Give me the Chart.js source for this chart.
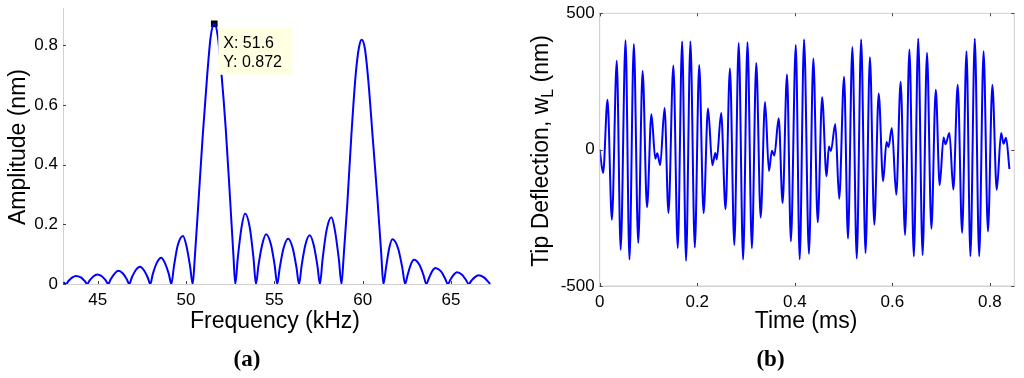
<!DOCTYPE html>
<html>
<head>
<meta charset="utf-8">
<script src="https://cdn.jsdelivr.net/npm/chart.js@4.4.1/dist/chart.umd.min.js"></script>
<style>
  html, body { margin: 0; padding: 0; background: #fff; }
  #wrap { position: relative; width: 1024px; height: 378px; }
  canvas { position: absolute; top: 0; }
  #left { left: 0; }
  #right { left: 512px; }
</style>
</head>
<body>
<div id="wrap">
  <canvas id="left" width="512" height="378"></canvas>
  <canvas id="right" width="512" height="378"></canvas>
</div>
<script>
// (a) amplitude spectrum
const freqKHz = [
  43.06, 43.21,
  43.35, 43.57, 43.77, 44.05, 44.27, 44.41,
  44.55, 44.77, 44.98, 45.24, 45.46, 45.60,
  45.74, 45.96, 46.17, 46.43, 46.65, 46.79,
  46.93, 47.15, 47.40, 47.62, 47.84, 47.98,
  48.12, 48.34, 48.60, 48.81, 49.03, 49.17,
  49.32, 49.53, 49.83, 50.02, 50.23, 50.38,
  50.50, 50.70, 50.95, 51.20, 51.40, 51.60, 51.80, 52.00, 52.25, 52.50, 52.68, 52.79,
  52.93, 53.14, 53.34, 53.61, 53.82, 53.96,
  54.10, 54.32, 54.53, 54.80, 55.02, 55.16,
  55.31, 55.53, 55.78, 56.03, 56.25, 56.40,
  56.54, 56.75, 57.00, 57.23, 57.44, 57.58,
  57.73, 57.95, 58.23, 58.43, 58.65, 58.80,
  58.92, 59.12, 59.36, 59.60, 59.78, 59.94, 60.12, 60.32, 60.58, 60.84, 61.05, 61.17,
  61.32, 61.50, 61.68, 62.00, 62.24, 62.40,
  62.54, 62.72, 62.90, 63.20, 63.44, 63.60,
  63.75, 63.93, 64.11, 64.42, 64.65, 64.82,
  64.96, 65.15, 65.33, 65.62, 65.84, 66.00,
  66.15, 66.35, 66.55, 66.84, 67.05, 67.21
];
const amplitudeNm = [
  0.006, 0,
  0.010, 0.022, 0.027, 0.022, 0.010, 0,
  0.012, 0.026, 0.032, 0.026, 0.012, 0,
  0.016, 0.035, 0.044, 0.035, 0.016, 0,
  0.021, 0.046, 0.058, 0.046, 0.021, 0,
  0.033, 0.070, 0.088, 0.070, 0.033, 0,
  0.060, 0.129, 0.161, 0.129, 0.060, 0,
  0.09, 0.27, 0.50, 0.70, 0.83, 0.872, 0.83, 0.71, 0.52, 0.28, 0.10, 0,
  0.087, 0.189, 0.236, 0.189, 0.087, 0,
  0.062, 0.134, 0.167, 0.134, 0.062, 0,
  0.056, 0.122, 0.152, 0.122, 0.056, 0,
  0.060, 0.130, 0.163, 0.130, 0.060, 0,
  0.083, 0.179, 0.224, 0.179, 0.083, 0,
  0.09, 0.26, 0.50, 0.70, 0.79, 0.819, 0.79, 0.68, 0.48, 0.28, 0.10, 0,
  0.055, 0.120, 0.150, 0.120, 0.055, 0,
  0.030, 0.065, 0.081, 0.065, 0.030, 0,
  0.020, 0.043, 0.054, 0.043, 0.020, 0,
  0.014, 0.031, 0.039, 0.031, 0.014, 0,
  0.011, 0.023, 0.029, 0.023, 0.011, 0
];
const freqTicks = [45, 50, 55, 60, 65];
const ampTicks = [0, 0.2, 0.4, 0.6, 0.8];
const dataTip = { x: 51.6, y: 0.872 };

// (b) tip deflection vs time (peaks and troughs)
const timeMs = [
  0, 0.007, 0.016, 0.025, 0.035, 0.043, 0.053, 0.061, 0.070, 0.079,
  0.088, 0.097, 0.106, 0.114, 0.118, 0.124, 0.133, 0.141, 0.151, 0.160,
  0.169, 0.177, 0.186, 0.195, 0.204, 0.213, 0.222, 0.231, 0.237, 0.240,
  0.249, 0.258, 0.267, 0.276, 0.285, 0.294, 0.303, 0.312, 0.321, 0.330,
  0.339, 0.347, 0.353, 0.358, 0.367, 0.375, 0.384, 0.392, 0.402, 0.410,
  0.419, 0.429, 0.438, 0.447, 0.456, 0.465, 0.470, 0.474, 0.483, 0.491,
  0.501, 0.509, 0.518, 0.527, 0.536, 0.545, 0.554, 0.563, 0.572, 0.581,
  0.588, 0.592, 0.599, 0.608, 0.617, 0.626, 0.635, 0.644, 0.653, 0.662,
  0.671, 0.680, 0.689, 0.697, 0.705, 0.709, 0.717, 0.725, 0.734, 0.743,
  0.752, 0.760, 0.769, 0.778, 0.787, 0.796, 0.805, 0.814, 0.823, 0.828,
  0.833, 0.840
];
const deflectionNm = [
  0, -86, 183, -257, 326, -367, 401, -403, 387, -342,
  288, -211, 130, -33, -13, -57, 153, -232, 309, -361,
  397, -407, 397, -359, 310, -233, 151, -57, -12, -36,
  134, -218, 298, -350, 391, -403, 394, -361, 318, -249,
  175, -78, -4, -21, 115, -196, 276, -336, 384, -402,
  404, -382, 334, -266, 192, -98, 12, -5, 94, -180,
  267, -326, 376, -399, 404, -379, 339, -275, 206, -116,
  28, 10, 79, -165, 249, -313, 367, -392, 407, -387,
  355, -290, 220, -130, 45, 20, 61, -147, 238, -305,
  361, -391, 407, -391, 361, -300, 237, -147, 61, 22,
  44, -71
];
const timeTicks = [0, 0.2, 0.4, 0.6, 0.8];
const deflTicks = [-500, 0, 500];

const SANS = '"Liberation Sans", Arial, sans-serif';
const SERIF = '"Liberation Serif", "Times New Roman", serif';
const AXIS_GREY = '#d0d0d0';
const BLUE = '#0000ff';

function axis(min, max, ticks, size, isX) {
  return {
    type: 'linear',
    min: min,
    max: max,
    afterBuildTicks: s => { s.ticks = ticks.map(v => ({ value: v })); },
    afterFit: s => {
      if (isX) s.height = size; else s.width = size;
      s.paddingTop = s.paddingBottom = s.paddingLeft = s.paddingRight = 0;
    },
    grid: { display: false, drawTicks: false },
    border: { display: true, color: AXIS_GREY, width: 1 },
    ticks: {
      color: '#000',
      font: { family: SANS, size: 17 },
      padding: isX ? 6 : 5,
      maxRotation: 0,
      autoSkip: false,
      callback: v => String(v)
    }
  };
}

// axis titles, panel letters, inward tick marks, box and data tip
const decor = {
  id: 'decor',
  afterDraw(chart, args, o) {
    const ctx = chart.ctx, a = chart.chartArea;
    const xs = chart.scales.x, ys = chart.scales.y;
    ctx.save();
    if (o.box) {
      ctx.strokeStyle = AXIS_GREY;
      ctx.lineWidth = 1;
      ctx.strokeRect(a.left, a.top, a.right - a.left, a.bottom - a.top);
    }
    ctx.strokeStyle = '#444';
    ctx.lineWidth = 1;
    ctx.beginPath();
    xs.ticks.forEach(t => {
      const px = Math.round(xs.getPixelForValue(t.value)) + 0.5;
      ctx.moveTo(px, a.bottom); ctx.lineTo(px, a.bottom - 3);
      if (o.box) { ctx.moveTo(px, a.top); ctx.lineTo(px, a.top + 3); }
    });
    ys.ticks.forEach(t => {
      const py = Math.round(ys.getPixelForValue(t.value)) + 0.5;
      ctx.moveTo(a.left, py); ctx.lineTo(a.left + 3, py);
      if (o.box) { ctx.moveTo(a.right, py); ctx.lineTo(a.right - 3, py); }
    });
    ctx.stroke();

    ctx.fillStyle = '#000';
    ctx.textBaseline = 'alphabetic';
    ctx.textAlign = 'center';
    ctx.font = '23px ' + SANS;
    ctx.fillText(o.xTitle, o.xTitleX, o.xTitleY);

    // rotated y title, parts may be subscript
    ctx.save();
    ctx.translate(o.yTitleX, o.yTitleY);
    ctx.rotate(-Math.PI / 2);
    ctx.textAlign = 'left';
    let total = 0;
    o.yTitle.forEach(p => {
      ctx.font = (p.sub ? '16px ' : '23px ') + SANS;
      total += ctx.measureText(p.text).width;
    });
    let x = -total / 2;
    o.yTitle.forEach(p => {
      ctx.font = (p.sub ? '16px ' : '23px ') + SANS;
      ctx.fillText(p.text, x, p.sub ? 5 : 0);
      x += ctx.measureText(p.text).width;
    });
    ctx.restore();

    ctx.textAlign = 'center';
    ctx.font = 'bold 23px ' + SERIF;
    ctx.fillText(o.panel, o.panelX, o.panelY);

    if (o.tip) {
      const px = xs.getPixelForValue(o.tip.x);
      const py = ys.getPixelForValue(o.tip.y);
      ctx.fillStyle = '#ffffe1';
      ctx.fillRect(px + 4, py + 4, 74, 47);
      ctx.fillStyle = '#000';
      ctx.textAlign = 'left';
      ctx.font = '16px ' + SANS;
      ctx.fillText('X: ' + o.tip.x, px + 9, py + 24);
      ctx.fillText('Y: ' + o.tip.y, px + 9, py + 43.5);
    }
    ctx.restore();
  }
};

new Chart(document.getElementById('left'), {
  type: 'line',
  data: {
    datasets: [{
      data: freqKHz.map((f, i) => ({ x: f, y: amplitudeNm[i] })),
      borderColor: BLUE,
      borderWidth: 2,
      pointRadius: 0,
      cubicInterpolationMode: 'monotone'
    }, {
      data: [dataTip],
      showLine: false,
      pointStyle: 'rect',
      pointRadius: 4.7,
      pointBackgroundColor: '#000',
      pointBorderWidth: 0
    }]
  },
  options: {
    responsive: false,
    animation: false,
    devicePixelRatio: 1,
    layout: { padding: { left: 0, top: 8, right: 21, bottom: 0 } },
    scales: {
      x: axis(43.04, 67.26, freqTicks, 94, true),
      y: axis(0, 0.925, ampTicks, 63, false)
    },
    plugins: {
      legend: { display: false },
      tooltip: { enabled: false },
      decor: {
        box: false,
        xTitle: 'Frequency (kHz)', xTitleX: 275, xTitleY: 328,
        yTitle: [{ text: 'Amplitude (nm)' }], yTitleX: 25, yTitleY: 147,
        panel: '(a)', panelX: 247, panelY: 366,
        tip: dataTip
      }
    }
  },
  plugins: [decor]
});

new Chart(document.getElementById('right'), {
  type: 'line',
  data: {
    datasets: [{
      data: timeMs.map((t, i) => ({ x: t, y: deflectionNm[i] })),
      borderColor: BLUE,
      borderWidth: 2,
      pointRadius: 0,
      cubicInterpolationMode: 'monotone'
    }]
  },
  options: {
    responsive: false,
    animation: false,
    devicePixelRatio: 1,
    layout: { padding: { left: 0, top: 13.3, right: 9.7, bottom: 0 } },
    scales: {
      x: axis(0, 0.85, timeTicks, 92, true),
      y: axis(-500, 500, deflTicks, 87.7, false)
    },
    plugins: {
      legend: { display: false },
      tooltip: { enabled: false },
      decor: {
        box: true,
        xTitle: 'Time (ms)', xTitleX: 294, xTitleY: 328,
        yTitle: [{ text: 'Tip Deflection, w' }, { text: 'L', sub: true }, { text: ' (nm)' }],
        yTitleX: 36, yTitleY: 151,
        panel: '(b)', panelX: 258.5, panelY: 366
      }
    }
  },
  plugins: [decor]
});
</script>
</body>
</html>
